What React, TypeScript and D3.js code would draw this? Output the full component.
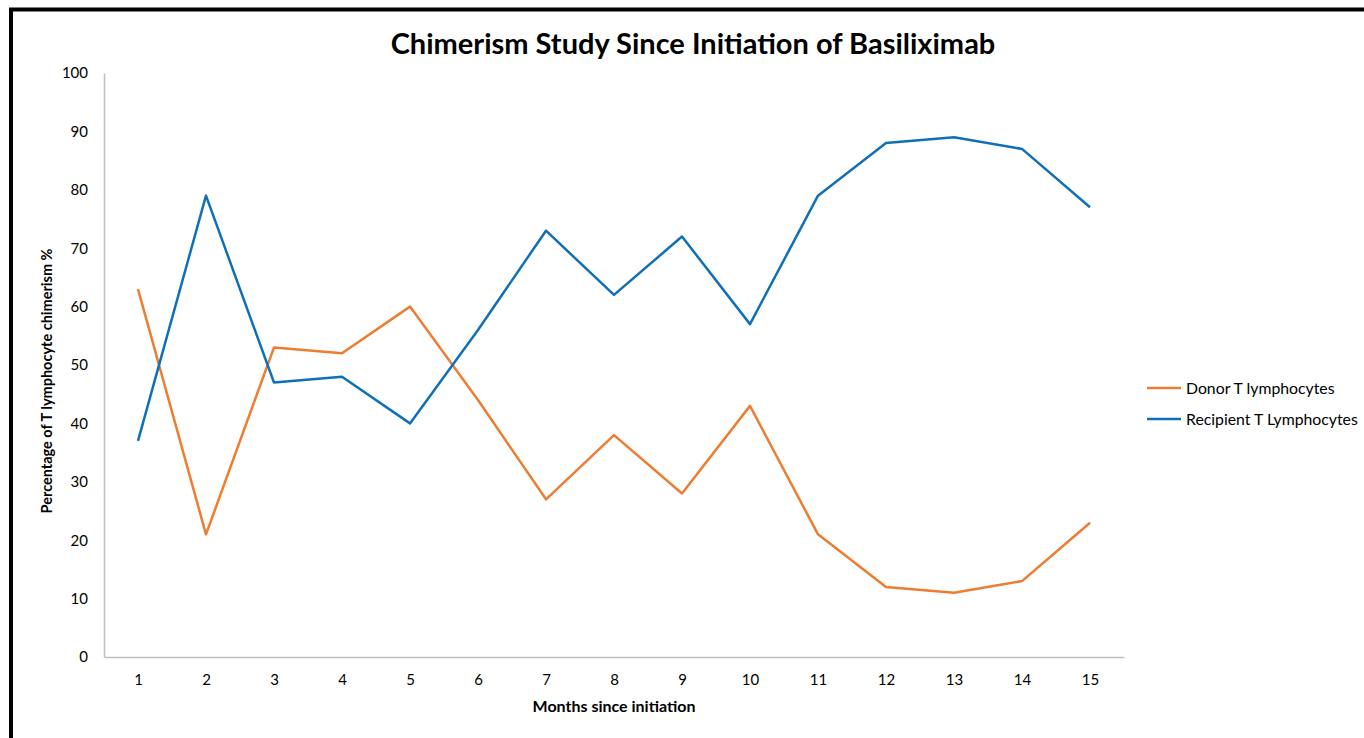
import React, { useEffect, useRef } from "react";
import * as d3 from "d3";

const WIDTH = 1364;
const HEIGHT = 738;
const PLOT = { LEFT: 104, RIGHT: 1124, TOP: 73, BOTTOM: 657 };

const months = ["1", "2", "3", "4", "5", "6", "7", "8", "9", "10", "11", "12", "13", "14", "15"];
const donor = [63, 21, 53, 52, 60, 44, 27, 38, 28, 43, 21, 12, 11, 13, 23];
const recipient = [37, 79, 47, 48, 40, 56, 73, 62, 72, 57, 79, 88, 89, 87, 77];
const yTicks = [0, 10, 20, 30, 40, 50, 60, 70, 80, 90, 100];

const series = [
  { label: "Donor T lymphocytes", values: donor, color: "#ED7D31" },
  { label: "Recipient T Lymphocytes", values: recipient, color: "#0F70B7" },
];

const FONT = "Lato, 'Open Sans', sans-serif";

const App: React.FC = () => {
  const xAxisRef = useRef<SVGGElement | null>(null);
  const yAxisRef = useRef<SVGGElement | null>(null);
  const linesRef = useRef<SVGGElement | null>(null);

  useEffect(() => {
    const xScale = d3.scalePoint<string>().domain(months).range([PLOT.LEFT, PLOT.RIGHT]).padding(0.5);
    const yScale = d3.scaleLinear().domain([0, 100]).range([PLOT.BOTTOM, PLOT.TOP]);

    const xAxis = d3.axisBottom(xScale).tickSize(0).tickPadding(17);
    const yAxis = d3.axisLeft(yScale).tickValues(yTicks).tickSize(0).tickPadding(16);

    const gx = d3.select(xAxisRef.current);
    gx.call(xAxis as any);
    gx.select(".domain").attr("stroke", "#bfbfbf").attr("stroke-width", 1.5);
    gx.selectAll("text").attr("font-size", 15).attr("font-family", FONT).attr("fill", "#000");

    const gy = d3.select(yAxisRef.current);
    gy.call(yAxis as any);
    gy.select(".domain").attr("stroke", "#bfbfbf").attr("stroke-width", 1.5);
    gy.selectAll("text").attr("font-size", 15).attr("font-family", FONT).attr("fill", "#000");

    const g = d3.select(linesRef.current);
    g.selectAll("*").remove();

    series.forEach((s) => {
      const line = d3
        .line<number>()
        .x((_, i) => xScale(months[i])!)
        .y((d) => yScale(d));

      g.append("path")
        .datum(s.values)
        .attr("d", line)
        .attr("fill", "none")
        .attr("stroke", s.color)
        .attr("stroke-width", 2.5)
        .attr("stroke-linejoin", "round");
    });
  }, []);

  return (
    <svg width={WIDTH} height={HEIGHT} style={{ position: "absolute", left: 0, top: 0 }}>
      <rect x={0} y={0} width={WIDTH} height={HEIGHT} fill="#fff" />
      <rect x={11} y={9.5} width={WIDTH} height={HEIGHT + 20} fill="none" stroke="#000" strokeWidth={4} />
      <text x={693} y={54} textAnchor="middle" fontFamily={FONT} fontWeight="bold" fontSize={29}>
        Chimerism Study Since Initiation of Basiliximab
      </text>
      <g ref={yAxisRef} transform={`translate(${PLOT.LEFT}, 0)`} />
      <g ref={xAxisRef} transform={`translate(0, ${PLOT.BOTTOM})`} />
      <g ref={linesRef} />
      <text x={(PLOT.LEFT + PLOT.RIGHT) / 2} y={712} textAnchor="middle" fontFamily={FONT} fontWeight="bold" fontSize={16}>
        Months since initiation
      </text>
      <text
        transform={`translate(52, 381) rotate(-90)`}
        textAnchor="middle"
        fontFamily={FONT}
        fontWeight="bold"
        fontSize={14.5}
      >
        Percentage of T lymphocyte chimerism %
      </text>
      {series.map((s, i) => (
        <g key={s.label} transform={`translate(1147, ${388 + i * 31})`}>
          <line x1={0} x2={34} y1={0} y2={0} stroke={s.color} strokeWidth={2.5} />
          <text x={39} y={5.5} fontFamily={FONT} fontSize={15.8}>
            {s.label}
          </text>
        </g>
      ))}
    </svg>
  );
};

export default App;
